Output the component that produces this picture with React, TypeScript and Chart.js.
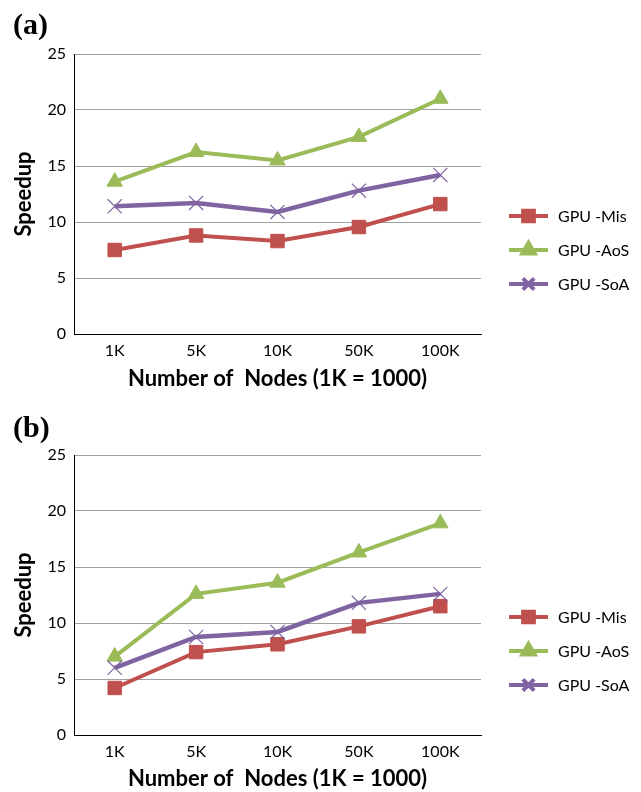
import React, { useEffect, useRef } from "react";
import { Chart, registerables } from "chart.js";
import { drawPoint } from "chart.js/helpers";

Chart.register(...registerables);

const categories = ["1K", "5K", "10K", "50K", "100K"];
const seriesLabels = ["GPU -Mis", "GPU -AoS", "GPU -SoA"];
const yTicks = [0, 5, 10, 15, 20, 25];

const misA = [7.5, 8.8, 8.3, 9.55, 11.6];
const aosA = [13.6, 16.25, 15.5, 17.6, 21.0];
const soaA = [11.4, 11.7, 10.9, 12.8, 14.2];

const misB = [4.2, 7.4, 8.1, 9.7, 11.5];
const aosB = [7.0, 12.6, 13.6, 16.3, 18.9];
const soaB = [6.0, 8.75, 9.2, 11.8, 12.6];

const colors = ["#C0504D", "#9BBB59", "#8064A2"];
const styles = ["rect", "triangle", "crossRot"];
const radii = [9.5, 9, 10];

const FONT = "Lato";

const overlayPlugin = {
  id: "overlay",
  afterDraw(chart: any, _args: any, opts: any) {
    const ctx = chart.ctx;
    ctx.save();
    ctx.font = 'bold 30px "Liberation Serif"';
    ctx.fillStyle = "#000";
    ctx.textBaseline = "alphabetic";
    ctx.textAlign = "left";
    ctx.fillText(opts.panel, 13, opts.panelBaseline);

    const x0 = chart.chartArea.right + 28;
    chart.data.datasets.forEach((ds: any, i: number) => {
      const y = opts.legendTop + i * 34;
      ctx.strokeStyle = ds.borderColor;
      ctx.lineWidth = 4;
      ctx.lineCap = "butt";
      ctx.beginPath();
      ctx.moveTo(x0, y);
      ctx.lineTo(x0 + 39, y);
      ctx.stroke();
      ctx.fillStyle = ds.pointBackgroundColor;
      ctx.strokeStyle = ds.pointBorderColor;
      drawPoint(
        ctx,
        {
          pointStyle: ds.pointStyle,
          rotation: 0,
          borderWidth: ds.pointBorderWidth,
          radius: ds.pointRadius * 0.8,
        } as any,
        x0 + 19.5,
        y
      );
      ctx.fillStyle = "#000";
      ctx.font = `16px ${FONT}`;
      ctx.textBaseline = "middle";
      ctx.fillText(ds.label, x0 + 49, y + 1);
    });
    ctx.restore();
  },
};

function Panel(props: {
  panel: string;
  top: number;
  height: number;
  mis: number[];
  aos: number[];
  soa: number[];
  panelBaseline: number;
  titlePadBottom: number;
}) {
  const ref = useRef<HTMLCanvasElement | null>(null);
  useEffect(() => {
    if (!ref.current) return;
    const values = [props.mis, props.aos, props.soa];
    const chart = new Chart(ref.current, {
      type: "line",
      data: {
        labels: categories,
        datasets: values.map((v, i) => ({
          label: seriesLabels[i],
          data: v,
          borderColor: colors[i],
          backgroundColor: colors[i],
          borderWidth: i === 2 ? 4.5 : 4,
          pointStyle: styles[i],
          pointRadius: radii[i],
          pointHoverRadius: radii[i],
          pointBackgroundColor: colors[i],
          pointBorderColor: colors[i],
          pointBorderWidth: i === 2 ? 1.2 : 1,
          tension: 0,
          fill: false,
          order: 3 - i,
        })),
      },
      options: {
        responsive: false,
        animation: false,
        layout: { padding: { top: 54, right: 160, left: 0, bottom: 0 } },
        plugins: {
          legend: { display: false },
          tooltip: { enabled: false },
          overlay: {
            panel: props.panel,
            panelBaseline: props.panelBaseline,
            legendTop: 216,
          },
        } as any,
        scales: {
          x: {
            type: "category",
            offset: true,
            grid: { display: false, drawTicks: false },
            border: { display: true, color: "#000", width: 1 },
            ticks: {
              color: "#000",
              font: { family: FONT, size: 16 },
              padding: 7,
              maxRotation: 0,
            },
            title: {
              display: true,
              text: "Number of  Nodes (1K = 1000)",
              color: "#000",
              font: { family: FONT, size: 22, weight: "bold" },
              padding: { top: 0, bottom: props.titlePadBottom },
            },
            afterFit(scale: any) {
              scale.height = props.height - 334;
            },
          },
          y: {
            min: 0,
            max: 25,
            afterBuildTicks(scale: any) {
              scale.ticks = yTicks.map((v) => ({ value: v }));
            },
            grid: { color: "#a0a0a0", lineWidth: 1, drawTicks: false },
            border: { display: true, color: "#000", width: 1 },
            ticks: {
              color: "#000",
              font: { family: FONT, size: 16 },
              padding: 8,
            },
            title: {
              display: true,
              text: "Speedup",
              color: "#000",
              font: { family: FONT, size: 22, weight: "bold" },
              padding: { top: 11, bottom: 0 },
            },
            afterFit(scale: any) {
              scale.width = 74;
            },
          },
        },
      },
      plugins: [overlayPlugin],
    });
    return () => chart.destroy();
  }, []);
  return (
    <canvas
      ref={ref}
      width={641}
      height={props.height}
      style={{ position: "absolute", left: 0, top: props.top, display: "block" }}
    />
  );
}

export default function App() {
  return (
    <div
      style={{
        position: "absolute",
        left: 0,
        top: 0,
        width: 641,
        height: 792,
        background: "#fff",
        overflow: "hidden",
      }}
    >
      <Panel panel="(a)" top={0} height={396} mis={misA} aos={aosA} soa={soaA} panelBaseline={34} titlePadBottom={4} />
      <Panel panel="(b)" top={401} height={391} mis={misB} aos={aosB} soa={soaB} panelBaseline={36} titlePadBottom={0} />
    </div>
  );
}
